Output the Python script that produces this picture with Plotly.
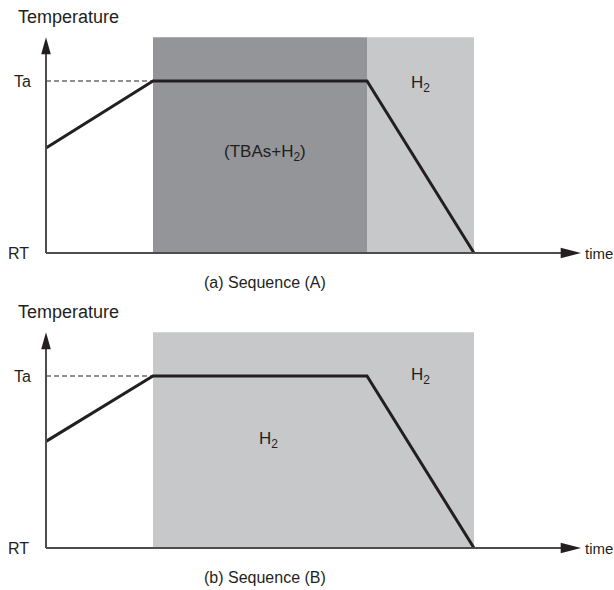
import plotly.graph_objects as go

# Temperature profile (time in arbitrary units, temperature normalised: RT = 0, Ta = 1)
time_pts = [0, 1, 3, 4]
temp_a = [0.61, 1.0, 1.0, 0.0]
temp_b = [0.62, 1.0, 1.0, 0.0]

# Gas-ambient phases per sequence: (start, end, colour)
phases_a = [(1, 3, "#939598"), (3, 4, "#c7c8ca")]
phases_b = [(1, 4, "#c7c8ca")]

# Ambient labels per sequence: (time, temperature, text)
labels_a = [(2.05, 0.58, "(TBAs+H<sub>2</sub>)"), (3.5, 0.98, "H<sub>2</sub>")]
labels_b = [(2.08, 0.63, "H<sub>2</sub>"), (3.5, 1.0, "H<sub>2</sub>")]

captions = ["(a) Sequence (A)", "(b) Sequence (B)"]

T_TOP = 1.255      # top of shaded regions / y-axis arrow tip
X_END = 5.0        # x-axis arrow tip
INK = "#231f20"
AXIS = "#4d4d4f"
FONT = "Liberation Sans, Arial, sans-serif"

fig = go.Figure()
shapes, annotations = [], []

panels = [
    ("x", "y", temp_a, phases_a, labels_a, captions[0]),
    ("x2", "y2", temp_b, phases_b, labels_b, captions[1]),
]

for xr, yr, temps, phases, labels, caption in panels:
    # shaded ambient regions
    for x0, x1, col in phases:
        shapes.append(dict(type="rect", xref=xr, yref=yr, x0=x0, x1=x1, y0=0, y1=T_TOP,
                           fillcolor=col, line=dict(width=0), layer="below"))
    for lx, ly, lab in labels:
        annotations.append(dict(xref=xr, yref=yr, x=lx, y=ly, text=lab, showarrow=False,
                                font=dict(family=FONT, size=17, color=INK)))

    # Ta reference (dashed)
    shapes.append(dict(type="line", xref=xr, yref=yr, x0=0, x1=time_pts[1], y0=1, y1=1,
                       line=dict(color=INK, width=1, dash="5px,3px")))
    # axes with arrowheads
    shapes.append(dict(type="line", xref=xr, yref=yr, x0=0, x1=0, y0=0, y1=T_TOP - 0.05,
                       line=dict(color=AXIS, width=2)))
    shapes.append(dict(type="line", xref=xr, yref=yr, x0=0, x1=X_END - 0.1, y0=0, y1=0,
                       line=dict(color=AXIS, width=2)))
    shapes.append(dict(type="path", xref=xr, yref=yr,
                       path=f"M -0.045,{T_TOP - 0.1} L 0,{T_TOP} L 0.045,{T_TOP - 0.1} Z",
                       fillcolor=INK, line=dict(width=0)))
    shapes.append(dict(type="path", xref=xr, yref=yr,
                       path=f"M {X_END - 0.19},-0.03 L {X_END},0 L {X_END - 0.19},0.03 Z",
                       fillcolor=INK, line=dict(width=0)))

    # temperature profile
    fig.add_trace(go.Scatter(x=time_pts, y=temps, mode="lines", xaxis=xr, yaxis=yr,
                             line=dict(color=INK, width=3), hoverinfo="skip", showlegend=False))

    # text labels
    txt = dict(family=FONT, size=16, color=INK)
    annotations += [
        dict(xref=xr, yref=yr, x=-0.285, y=1.37, text="Temperature", xanchor="left",
             showarrow=False, font=dict(family=FONT, size=18, color=INK)),
        dict(xref=xr, yref=yr, x=-0.12, y=1.0, text="Ta", xanchor="right", showarrow=False, font=txt),
        dict(xref=xr, yref=yr, x=-0.14, y=0.0, text="RT", xanchor="right", showarrow=False, font=txt),
        dict(xref=xr, yref=yr, x=X_END + 0.02, y=0.0, text="time", xanchor="left", showarrow=False,
             font=dict(family=FONT, size=15, color=INK)),
        dict(xref=xr, yref=yr, x=2.05, y=-0.17, text=caption, showarrow=False, font=txt),
    ]

axis_common = dict(visible=False, showgrid=False, zeroline=False, fixedrange=True)
xrange = [-46 / 107, (614 - 46) / 107]
yrange = [-42 / 172, 253 / 172]

fig.update_layout(
    width=614, height=590,
    margin=dict(l=0, r=0, t=0, b=0),
    paper_bgcolor="white", plot_bgcolor="white",
    xaxis=dict(domain=[0, 1], range=xrange, anchor="y", **axis_common),
    yaxis=dict(domain=[0.5, 1], range=yrange, anchor="x", **axis_common),
    xaxis2=dict(domain=[0, 1], range=xrange, anchor="y2", **axis_common),
    yaxis2=dict(domain=[0, 0.5], range=yrange, anchor="x2", **axis_common),
    shapes=shapes,
    annotations=annotations,
)

fig.write_html("out.html")
